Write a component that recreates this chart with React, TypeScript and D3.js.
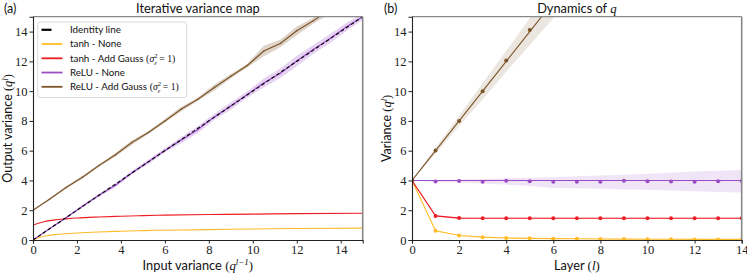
import { useEffect, useRef } from "react";
import * as d3 from "d3";

const W = 747;
const H = 273;

// ---- panel (a): iterative variance map ----
const identX = [0, 15];
const identY = [0, 15];

const tanhIn = [0, 0.25, 0.5, 0.75, 1, 1.5, 2, 3, 4, 5, 6, 8, 10, 12, 15];
const tanhNone = [0, 0.15, 0.25, 0.31, 0.36, 0.42, 0.47, 0.54, 0.59, 0.63, 0.66, 0.7, 0.74, 0.77, 0.8];
const tanhGauss = [1, 1.13, 1.23, 1.3, 1.35, 1.42, 1.48, 1.55, 1.6, 1.64, 1.67, 1.71, 1.74, 1.77, 1.8];

const reluIn = [0, 0.75, 1.5, 2.25, 3, 3.75, 4.5, 5.25, 6, 6.75, 7.5, 8.25, 9, 9.75, 10.5, 11.25, 12, 12.75, 13.5, 14.25, 15];
const reluNone = [0, 0.76, 1.49, 2.27, 3.0, 3.68, 4.52, 5.25, 6.02, 6.72, 7.42, 8.27, 9.0, 9.78, 10.55, 11.2, 12.02, 12.8, 13.52, 14.3, 15.0];
const reluNoneSd = [0, 0.04, 0.06, 0.08, 0.1, 0.14, 0.12, 0.15, 0.15, 0.2, 0.24, 0.2, 0.25, 0.2, 0.3, 0.32, 0.35, 0.3, 0.3, 0.28, 0.2];
const reluGauss = [2, 2.74, 3.52, 4.22, 5.0, 5.72, 6.55, 7.22, 8.0, 8.8, 9.45, 10.25, 11.0, 11.72, 12.7, 13.2, 14.05, 14.72, 15.5, 16.2, 17.0];
const reluGaussSd = [0, 0.05, 0.08, 0.1, 0.08, 0.12, 0.15, 0.1, 0.12, 0.15, 0.12, 0.2, 0.15, 0.12, 0.35, 0.25, 0.3, 0.2, 0.3, 0.3, 0.3];

// ---- panel (b): dynamics of q ----
const layers = [0, 1, 2, 3, 4, 5, 6, 7, 8, 9, 10, 11, 12, 13, 14];
const dynTanh = [4, 0.62, 0.3, 0.19, 0.13, 0.11, 0.09, 0.08, 0.07, 0.06, 0.05, 0.05, 0.04, 0.04, 0.04];
const dynTanhGauss = [4, 1.62, 1.47, 1.46, 1.46, 1.46, 1.46, 1.46, 1.46, 1.46, 1.46, 1.46, 1.46, 1.46, 1.46];
const dynRelu = [4, 4, 4, 4, 4, 4, 4, 4, 4, 4, 4, 4, 4, 4, 4];
const dynReluDots = [4, 3.93, 3.97, 3.92, 3.98, 3.95, 3.91, 3.92, 3.92, 3.98, 3.95, 3.93, 3.92, 3.95, 3.97];
const dynReluLo = [4, 3.9, 3.86, 3.8, 3.72, 3.62, 3.5, 3.47, 3.45, 3.4, 3.37, 3.33, 3.28, 3.23, 3.19];
const dynReluHi = [4, 4.03, 4.06, 4.1, 4.14, 4.18, 4.22, 4.28, 4.33, 4.38, 4.45, 4.52, 4.6, 4.66, 4.71];
const gaussLayers = [0, 1, 2, 3, 4, 5, 6];
const dynReluGauss = [4, 6, 8, 10, 12, 14, 16];
const dynReluGaussDots = [4, 6.02, 8.0, 10.0, 12.05, 14.1];
const dynReluGaussLo = [4, 5.8, 7.65, 9.45, 11.3, 13.1, 14.9];
const dynReluGaussHi = [4, 6.2, 8.35, 10.55, 12.7, 14.9, 17.1];

const ticksA = [0, 2, 4, 6, 8, 10, 12, 14];

const C_TANH = "#ffbc2a";
const C_TANH_G = "#ee1d25";
const C_RELU = "#9a4cc8";
const C_RELU_G = "#7c5428";

const SANS = "Lato, 'DejaVu Sans', sans-serif";
const SERIF = "'Liberation Serif', 'DejaVu Serif', serif";

type Sel = d3.Selection<any, unknown, null, undefined>;

// text with optional math part: parts = [text, kind]
function mathText(t: Sel, parts: [string, string][]) {
  parts.forEach(([s, k]) => {
    if (k === "t") t.append("tspan").attr("font-family", SANS).text(s);
    else if (k === "r") t.append("tspan").attr("font-family", SERIF).text(s);
    else if (k === "i") t.append("tspan").attr("font-family", SERIF).attr("font-style", "italic").text(s);
    else if (k === "sup")
      t.append("tspan").attr("font-family", SERIF).attr("font-style", "italic").attr("font-size", "70%").attr("dy", "-0.45em").text(s);
    else if (k === "down") t.append("tspan").attr("font-family", SERIF).attr("dy", "0.32em").text(s);
  });
}

function App() {
  const ref = useRef<SVGSVGElement>(null);

  useEffect(() => {
    if (!ref.current) return;
    const svg = d3.select(ref.current);
    svg.selectAll("*").remove();

    const top = 16.7;
    const bottom = 240;
    const y = d3.scaleLinear().domain([0, 15]).range([bottom, top]);
    const xa = d3.scaleLinear().domain([0, 15]).range([33, 362.7]);
    const xb = d3.scaleLinear().domain([0, 14]).range([412, 741.7]);

    const defs = svg.append("defs");
    defs.append("clipPath").attr("id", "clipA").append("rect")
      .attr("x", 33).attr("y", top).attr("width", 362.7 - 33).attr("height", bottom - top);
    defs.append("clipPath").attr("id", "clipB").append("rect")
      .attr("x", 412).attr("y", top).attr("width", 741.7 - 412).attr("height", bottom - top);

    const frame = (x: d3.ScaleLinear<number, number>, xt: number[], title: [string, string][], xl: [string, string][], yl: [string, string][], tag: string, tagX: number) => {
      const [x0, x1] = x.range();
      // top/right spines grey
      svg.append("line").attr("x1", x0).attr("x2", x1).attr("y1", top).attr("y2", top).attr("stroke", "#888").attr("stroke-width", 1.2);
      svg.append("line").attr("x1", x1).attr("x2", x1).attr("y1", top).attr("y2", bottom).attr("stroke", "#888").attr("stroke-width", 1.6);
      const ax = svg.append("g").attr("transform", `translate(0,${bottom})`)
        .call(d3.axisBottom(x).tickValues(xt).tickSize(3.5).tickPadding(1.5).tickFormat(d3.format("d")));
      const ay = svg.append("g").attr("transform", `translate(${x0},0)`)
        .call(d3.axisLeft(y).tickValues(ticksA).tickSize(3.5).tickPadding(2).tickFormat(d3.format("d")));
      [ax, ay].forEach((g) => {
        g.attr("font-family", SERIF).attr("font-size", 12.5);
        g.selectAll("text").attr("fill", "#222");
        g.selectAll("line").attr("stroke", "#222");
        g.select(".domain").attr("stroke", "#222").attr("stroke-width", 1.1);
      });
      mathText(svg.append("text").attr("x", (x0 + x1) / 2).attr("y", 12.5).attr("text-anchor", "middle").attr("font-size", 12.8).attr("fill", "#111"), title);
      mathText(svg.append("text").attr("x", (x0 + x1) / 2).attr("y", 269.5).attr("text-anchor", "middle").attr("font-size", 12.8).attr("fill", "#111"), xl);
      mathText(svg.append("text").attr("transform", `translate(${x0 - 21.5},${(top + bottom) / 2}) rotate(-90)`).attr("text-anchor", "middle").attr("font-size", 12.5).attr("fill", "#111"), yl);
      svg.append("text").attr("x", tagX).attr("y", 12.5).attr("font-family", SANS).attr("font-size", 12.5).attr("fill", "#111").text(tag);
    };

    // ---- panel (a) ----
    const pa = svg.append("g").attr("clip-path", "url(#clipA)");
    const band = (g: Sel, xs: number[], m: number[], sd: number[], c: string, x: d3.ScaleLinear<number, number>) => {
      const area = d3.area<number>().x((_, i) => x(xs[i])).y0((_, i) => y(m[i] - sd[i])).y1((_, i) => y(m[i] + sd[i]));
      g.append("path").attr("d", area(m)).attr("fill", c).attr("opacity", 0.25);
    };
    const line = (g: Sel, xs: number[], m: number[], c: string, x: d3.ScaleLinear<number, number>, w = 1.2, curve: any = d3.curveLinear) => {
      const ln = d3.line<number>().x((_, i) => x(xs[i])).y((d) => y(d)).curve(curve);
      return g.append("path").attr("d", ln(m)).attr("fill", "none").attr("stroke", c).attr("stroke-width", w);
    };

    band(pa, reluIn, reluGauss, reluGaussSd, C_RELU_G, xa);
    band(pa, reluIn, reluNone, reluNoneSd, C_RELU, xa);
    line(pa, tanhIn, tanhNone, C_TANH, xa, 1.1, d3.curveMonotoneX);
    line(pa, tanhIn, tanhGauss, C_TANH_G, xa, 1.1, d3.curveMonotoneX);
    line(pa, reluIn, reluNone, C_RELU, xa, 1.2);
    line(pa, reluIn, reluGauss, C_RELU_G, xa, 1.2);
    [[reluGauss, C_RELU_G], [reluNone, C_RELU]].forEach(([m, c]) => {
      pa.append("g").selectAll("circle").data(m as number[]).join("circle")
        .attr("cx", (_, i) => xa(reluIn[i])).attr("cy", (d) => y(d)).attr("r", 1).attr("fill", c as string).attr("opacity", 0.45);
    });
    line(pa, identX, identY, "#000", xa, 1.1).attr("stroke-dasharray", "3.5,2.5");

    frame(xa, ticksA, [["Iterative variance map", "t"]],
      [["Input variance ", "t"], ["(", "r"], ["q", "i"], ["l−1", "sup"], [")", "down"]],
      [["Output variance ", "t"], ["(", "r"], ["q", "i"], ["l", "sup"], [")", "down"]], "(a)", 4);

    // legend
    const lg = svg.append("g");
    lg.append("rect").attr("x", 37.7).attr("y", 22).attr("width", 149).attr("height", 75.5).attr("rx", 2.5)
      .attr("fill", "#fff").attr("fill-opacity", 0.85).attr("stroke", "#d0d0d0").attr("stroke-width", 0.8);
    const items: [string, [string, string][], boolean][] = [
      ["#000", [["Identity line", "t"]], true],
      [C_TANH, [["tanh - None", "t"]], false],
      [C_TANH_G, [["tanh - Add Gauss ", "t"]], false],
      [C_RELU, [["ReLU - None", "t"]], false],
      [C_RELU_G, [["ReLU - Add Gauss ", "t"]], false],
    ];
    items.forEach(([c, txt, dash], i) => {
      const yy = 29.8 + i * 14.25;
      lg.append("line").attr("x1", 41.5).attr("x2", dash ? 51.5 : 62.5).attr("y1", yy).attr("y2", yy)
        .attr("stroke", c).attr("stroke-width", dash ? 2.2 : 1.8);
      const t = lg.append("text").attr("x", 70).attr("y", yy + 3.4).attr("font-size", 9.8).attr("fill", "#111");
      mathText(t, txt);
      if (i === 2 || i === 4) {
        t.append("tspan").attr("font-family", SERIF).text("(");
        t.append("tspan").attr("font-family", SERIF).attr("font-style", "italic").text("σ");
        t.append("tspan").attr("font-family", SERIF).attr("font-size", 6.5).attr("dy", -4).text("2");
        t.append("tspan").attr("font-family", SERIF).attr("font-style", "italic").attr("font-size", 6.5).attr("dx", -3.3).attr("dy", 7).text("ε");
        t.append("tspan").attr("font-family", SERIF).attr("dy", -3).text(" = 1)");
      }
    });

    // ---- panel (b) ----
    const pb = svg.append("g").attr("clip-path", "url(#clipB)");
    const bandLH = (xs: number[], lo: number[], hi: number[], c: string, op: number) => {
      const area = d3.area<number>().x((_, i) => xb(xs[i])).y0((d) => y(d)).y1((_, i) => y(hi[i]));
      pb.append("path").attr("d", area(lo)).attr("fill", c).attr("opacity", op);
    };
    bandLH(gaussLayers, dynReluGaussLo, dynReluGaussHi, C_RELU_G, 0.15);
    bandLH(layers, dynReluLo, dynReluHi, C_RELU, 0.15);
    bandLH(layers, dynTanhGauss.map((d) => d - 0.04), dynTanhGauss.map((d) => d + 0.04), C_TANH_G, 0.3);
    bandLH(layers, dynTanh.map((d) => d - 0.02), dynTanh.map((d) => d + 0.03), C_TANH, 0.3);

    line(pb, layers, dynTanh, C_TANH, xb, 1.1);
    line(pb, layers, dynTanhGauss, C_TANH_G, xb, 1.1);
    line(pb, layers, dynRelu, C_RELU, xb, 1.1);
    line(pb, gaussLayers, dynReluGauss, C_RELU_G, xb, 1.1);
    const dots = (xs: number[], m: number[], c: string) => {
      pb.append("g").selectAll("circle").data(m).join("circle")
        .attr("cx", (_, i) => xb(xs[i])).attr("cy", (d) => y(d)).attr("r", 2).attr("fill", c);
    };
    dots(layers, dynTanh, C_TANH);
    dots(layers, dynTanhGauss, C_TANH_G);
    dots(layers, dynReluDots, C_RELU);
    dots(gaussLayers, dynReluGaussDots, C_RELU_G);

    frame(xb, ticksA, [["Dynamics of ", "t"], ["q", "i"]],
      [["Layer ", "t"], ["(", "r"], ["l", "i"], [")", "r"]],
      [["Variance ", "t"], ["(", "r"], ["q", "i"], ["l", "sup"], [")", "down"]], "(b)", 384);
  }, []);

  return <svg ref={ref} width={W} height={H} style={{ position: "absolute", left: 0, top: 0, background: "#fff" }} />;
}

export default App;
